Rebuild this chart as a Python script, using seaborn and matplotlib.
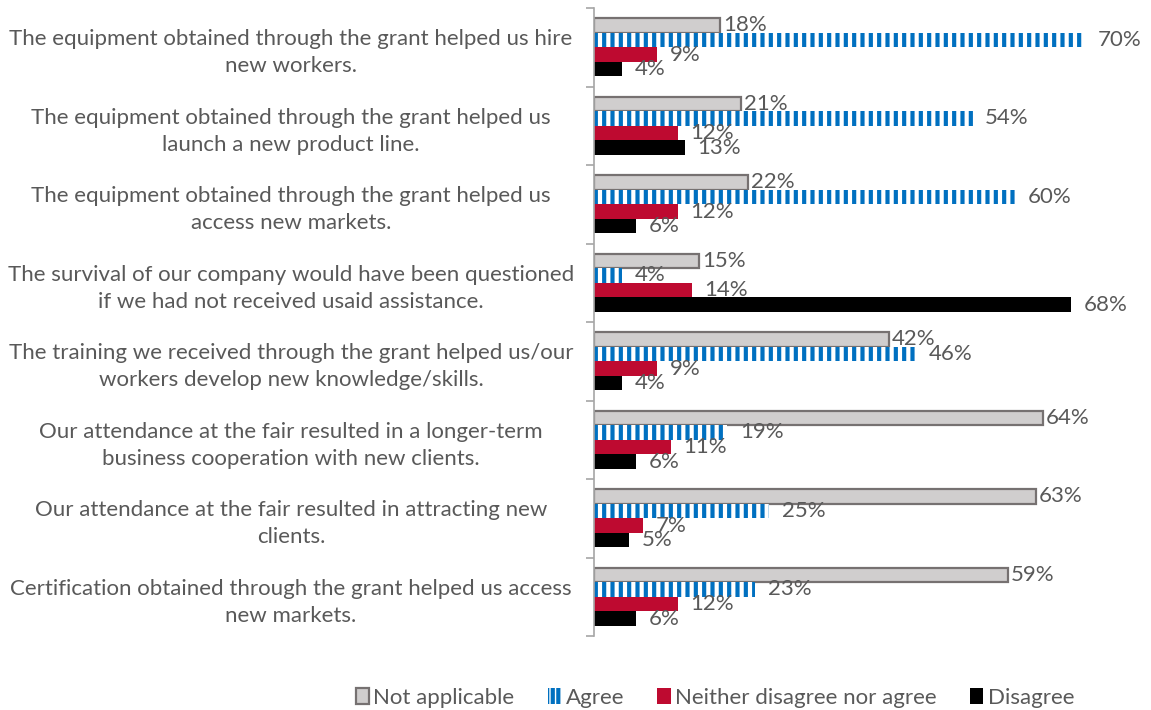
import matplotlib
matplotlib.use("Agg")
import matplotlib.pyplot as plt
from matplotlib.patches import Patch
import pandas as pd
import seaborn as sns

statements = [
    "The equipment obtained through the grant helped us hire\nnew workers.",
    "The equipment obtained through the grant helped us\nlaunch a new product line.",
    "The equipment obtained through the grant helped us\naccess new markets.",
    "The survival of our company would have been questioned\nif we had not received usaid assistance.",
    "The training we received through the grant helped us/our\nworkers develop new knowledge/skills.",
    "Our attendance at the fair resulted in a longer-term\nbusiness cooperation with new clients.",
    "Our attendance at the fair resulted in attracting new\nclients.",
    "Certification obtained through the grant helped us access\nnew markets.",
]
responses = ["Not applicable", "Agree", "Neither disagree nor agree", "Disagree"]
not_applicable = [18, 21, 22, 15, 42, 64, 63, 59]
agree = [70, 54, 60, 4, 46, 19, 25, 23]
neither = [9, 12, 12, 14, 9, 11, 7, 12]
disagree = [4, 13, 6, 68, 4, 6, 5, 6]

series = [not_applicable, agree, neither, disagree]
rows = []
for resp, vals in zip(responses, series):
    for st, v in zip(statements, vals):
        rows.append({"statement": st, "response": resp, "share": v})
df = pd.DataFrame(rows)

sns.set_theme(style="white")
plt.rcParams["font.family"] = ["Lato", "DejaVu Sans"]
plt.rcParams["hatch.linewidth"] = 3.0

text_color = "#595959"
gray_face, gray_edge = "#D0CECE", "#767171"
blue = "#0070C0"
red = "#BE0A30"
black = "#000000"
fs = 16

fig = plt.figure(figsize=(11.51, 7.10), dpi=100)
ax = fig.add_axes([594 / 1151, 1 - 636 / 710, (1120 - 594) / 1151, (636 - 8) / 710])

sns.barplot(data=df, y="statement", x="share", hue="response", hue_order=responses,
            order=statements, orient="h", width=0.74, saturation=1,
            palette=[gray_face, blue, red, black], legend=False, ax=ax)

for i, cont in enumerate(ax.containers):
    for bar in cont:
        if i == 0:
            bar.set_facecolor(gray_face)
            bar.set_edgecolor(gray_edge)
            bar.set_linewidth(1.6)
        elif i == 1:
            bar.set_facecolor("white")
            bar.set_edgecolor(blue)
            bar.set_linewidth(0)
            bar.set_hatch("||")
        else:
            bar.set_linewidth(0)
    ax.bar_label(cont, labels=[f"{v}%" for v in series[i]], padding=2 if i == 0 else 9,
                 fontsize=fs, color=text_color)

ax.set_xlim(0, 75)
ax.set_ylim(len(statements) - 0.5, -0.5)
ax.set_xlabel("")
ax.set_ylabel("")
ax.set_xticks([])
ax.set_yticks(range(len(statements)))
ax.set_yticklabels(statements, fontsize=fs, color=text_color, ha="center",
                   multialignment="center", linespacing=1.45)
ax.set_yticks([i - 0.5 for i in range(len(statements) + 1)], minor=True)
ax.tick_params(axis="y", which="major", length=0, pad=(594 - 291) * 0.72)
ax.tick_params(axis="y", which="minor", length=6, width=1.2, color="#A6A6A6", left=True)
for side in ["top", "right", "bottom"]:
    ax.spines[side].set_visible(False)
ax.spines["left"].set_color("#A6A6A6")
ax.spines["left"].set_linewidth(1.2)

handles = [
    Patch(facecolor=gray_face, edgecolor=gray_edge, linewidth=1.6),
    Patch(facecolor="white", edgecolor=blue, linewidth=0, hatch="|||"),
    Patch(facecolor=red, edgecolor=red, linewidth=0),
    Patch(facecolor=black, edgecolor=black, linewidth=0),
]
fig.legend(handles, responses, loc="center", bbox_to_anchor=(715 / 1151, 1 - 698 / 710),
           ncol=4, frameon=False, fontsize=fs, labelcolor=text_color,
           handlelength=0.6, handleheight=0.7, handletextpad=0.2, columnspacing=1.5)

fig.savefig("out.png", dpi=100)
